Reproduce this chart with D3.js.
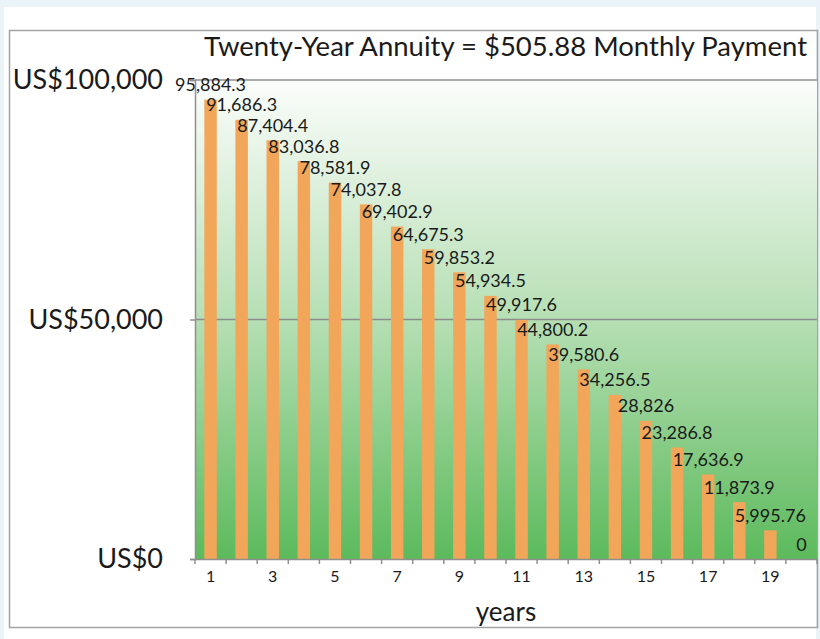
<!DOCTYPE html>
<html>
<head>
<meta charset="utf-8">
<script src="https://cdn.jsdelivr.net/npm/d3@7"></script>
<style>
  body { margin: 0; background: #eaf4f8; }
  svg text { font-family: Lato, "Open Sans", sans-serif; fill: #1a1a1a; }
</style>
</head>
<body>
<div id="chart"></div>
<script>
// data
const years = d3.range(1, 21);
const balances = [95884.3, 91686.3, 87404.4, 83036.8, 78581.9, 74037.8, 69402.9, 64675.3, 59853.2, 54934.5,
                  49917.6, 44800.2, 39580.6, 34256.5, 28826, 23286.8, 17636.9, 11873.9, 5995.76, 0];
const yTicks = [0, 50000, 100000];
const xTickLabels = [1, 3, 5, 7, 9, 11, 13, 15, 17, 19];
const title = 'Twenty-Year Annuity = $505.88 Monthly Payment';

const dims = {width: 820, height: 639};
const plot = {left: 195, right: 817, top: 80, bottom: 559};

const svg = d3.select('#chart')
    .append('svg')
    .attr('width', dims.width)
    .attr('height', dims.height);

// white card + frame
svg.append('rect')
    .attr('x', 4).attr('y', 7)
    .attr('width', 812).attr('height', 632)
    .attr('fill', '#fff');

svg.append('rect')
    .attr('x', 9.5).attr('y', 30.5)
    .attr('width', 808).attr('height', 597)
    .attr('fill', 'none')
    .attr('stroke', '#a3a3a3')
    .attr('stroke-width', 1.5);

const defs = svg.append('defs');
const grad = defs.append('linearGradient')
    .attr('id', 'bg')
    .attr('x1', 0).attr('y1', 0).attr('x2', 0).attr('y2', 1);
grad.append('stop').attr('offset', '0%').attr('stop-color', '#fbfdfb');
grad.append('stop').attr('offset', '50%').attr('stop-color', '#b6dfb4');
grad.append('stop').attr('offset', '100%').attr('stop-color', '#5cba5c');

const x = d3.scaleBand()
    .domain(years)
    .range([plot.left, plot.right])
    .paddingInner(0.6)
    .paddingOuter(0.3);

const y = d3.scaleLinear()
    .domain([0, 100000])
    .range([plot.bottom, plot.top]);

svg.append('rect')
    .attr('x', plot.left).attr('y', plot.top)
    .attr('width', plot.right - plot.left)
    .attr('height', plot.bottom - plot.top)
    .attr('fill', 'url(#bg)');

// top border of plot / title box
svg.append('line')
    .attr('x1', plot.left).attr('x2', plot.right)
    .attr('y1', plot.top).attr('y2', plot.top)
    .attr('stroke', '#8f8f8f')
    .attr('stroke-width', 1.5);

// gridline at 50k
svg.append('g')
    .selectAll('line')
    .data(yTicks.filter(d => d > 0 && d < 100000))
    .enter()
    .append('line')
        .attr('x1', plot.left).attr('x2', plot.right)
        .attr('y1', d => y(d)).attr('y2', d => y(d))
        .attr('stroke', '#8c8c8c')
        .attr('stroke-width', 1.5);

// bars
svg.append('g')
    .selectAll('rect')
    .data(balances)
    .enter()
    .append('rect')
        .attr('x', (d, i) => x(years[i]))
        .attr('width', x.bandwidth())
        .attr('y', d => y(d))
        .attr('height', d => plot.bottom - y(d))
        .attr('fill', '#f2a65a');

// value labels
const fmt = d3.format(',.6~g');
svg.append('g')
    .selectAll('text')
    .data(balances)
    .enter()
    .append('text')
        .attr('x', (d, i) => x(years[i]) + x.bandwidth() / 2)
        .attr('y', d => y(d) - 13)
        .attr('dominant-baseline', 'middle')
        .attr('text-anchor', 'middle')
        .attr('font-size', 18)
        .text(d => fmt(d));

// y axis
const yAxis = d3.axisLeft(y)
    .tickValues(yTicks)
    .tickSize(5)
    .tickPadding(27)
    .tickFormat(d => 'US$' + d3.format(',')(d));

const gy = svg.append('g')
    .attr('transform', `translate(${plot.left}, 0)`)
    .call(yAxis);
gy.select('.domain').attr('stroke', '#8f8f8f').attr('stroke-width', 1.5);
gy.selectAll('.tick line').attr('stroke', '#8f8f8f').attr('stroke-width', 1.5);
gy.selectAll('.tick text').attr('font-size', 27);

// x axis: labels on odd years, tick marks between bands
const xAxis = d3.axisBottom(x)
    .tickValues(xTickLabels)
    .tickSize(0)
    .tickPadding(12);

const gx = svg.append('g')
    .attr('transform', `translate(0, ${plot.bottom})`)
    .call(xAxis);
gx.select('.domain').attr('stroke', '#8f8f8f').attr('stroke-width', 1.5);
gx.selectAll('.tick text').attr('font-size', 16);

gx.selectAll('.bound')
    .data(years.concat([21]))
    .enter()
    .append('line')
        .attr('class', 'bound')
        .attr('x1', (d, i) => plot.left + i * x.step())
        .attr('x2', (d, i) => plot.left + i * x.step())
        .attr('y1', 0).attr('y2', 5)
        .attr('stroke', '#8f8f8f')
        .attr('stroke-width', 1.5);

// title and axis title
svg.append('text')
    .attr('x', 807).attr('y', 56)
    .attr('text-anchor', 'end')
    .attr('font-size', 27.5)
    .text(title);

svg.append('text')
    .attr('x', (plot.left + plot.right) / 2)
    .attr('y', 621)
    .attr('text-anchor', 'middle')
    .attr('font-size', 26)
    .text('years');
</script>
</body>
</html>
